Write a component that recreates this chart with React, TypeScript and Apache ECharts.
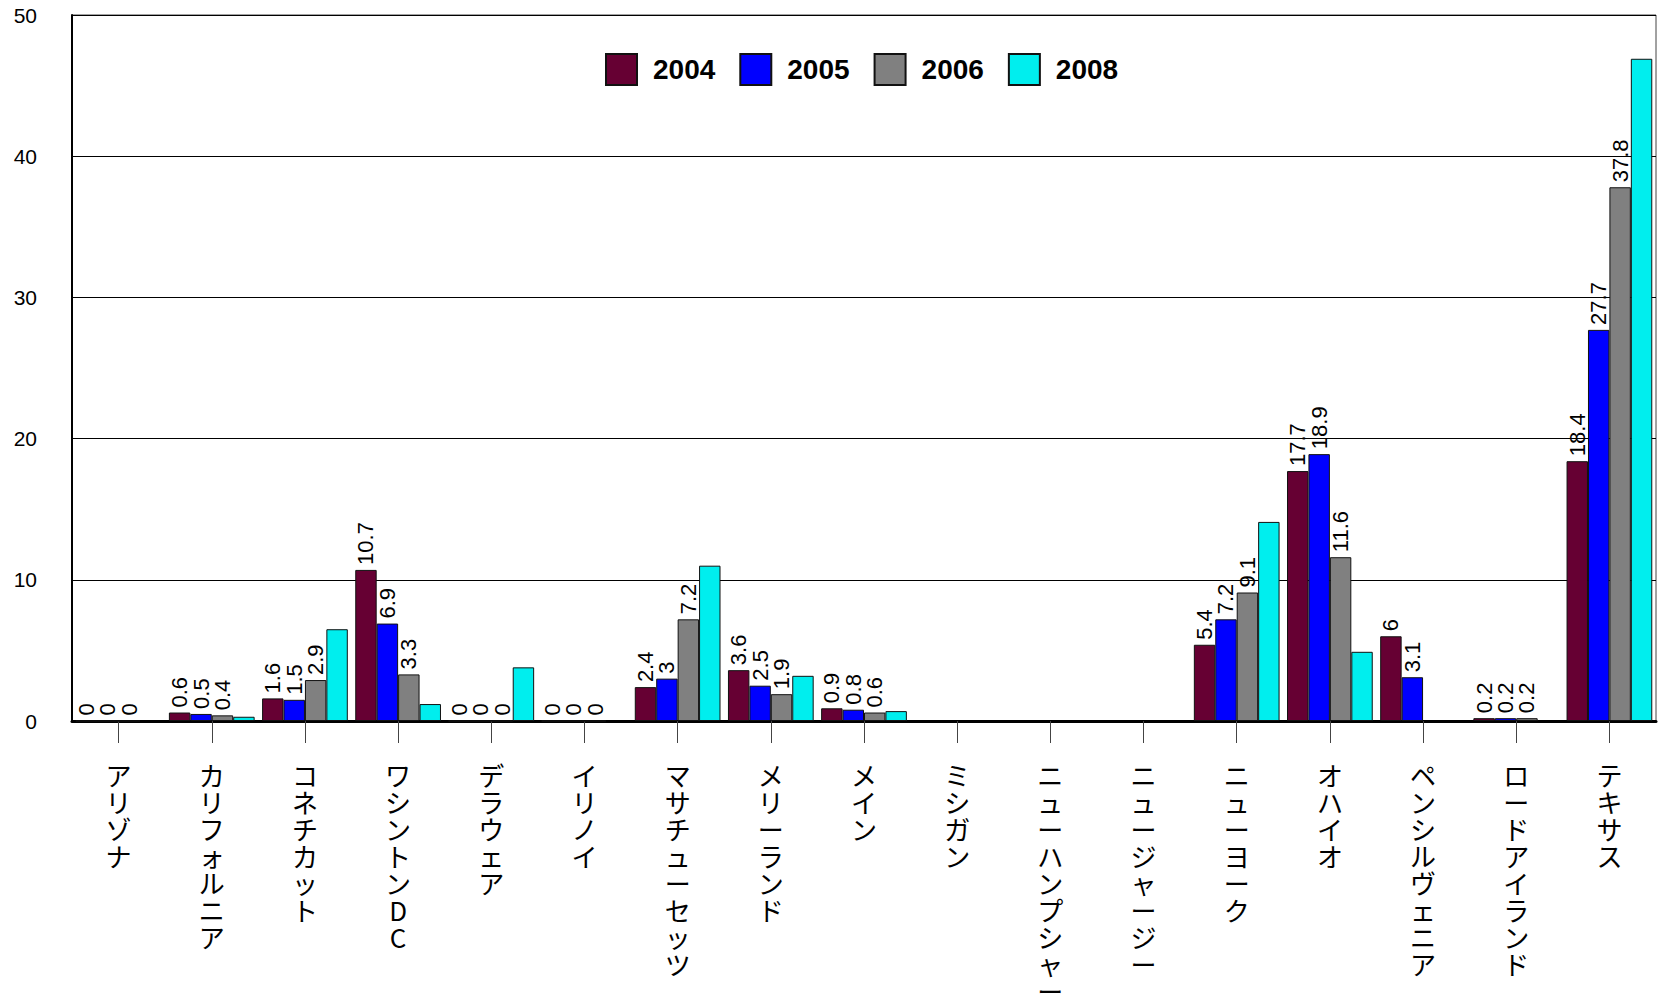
import React, { useEffect, useRef } from "react";
import * as echarts from "echarts";

const categories = [
  "アリゾナ", "カリフォルニア", "コネチカット", "ワシントンDC", "デラウェア", "イリノイ",
  "マサチューセッツ", "メリーランド", "メイン", "ミシガン", "ニューハンプシャー", "ニュージャージー",
  "ニューヨーク", "オハイオ", "ペンシルヴェニア", "ロードアイランド", "テキサス",
];
const seriesNames = ["2004", "2005", "2006", "2008"];
const values2004 = [0, 0.6, 1.6, 10.7, 0, 0, 2.4, 3.6, 0.9, null, null, null, 5.4, 17.7, 6, 0.2, 18.4];
const values2005 = [0, 0.5, 1.5, 6.9, 0, 0, 3, 2.5, 0.8, null, null, null, 7.2, 18.9, 3.1, 0.2, 27.7];
const values2006 = [0, 0.4, 2.9, 3.3, 0, 0, 7.2, 1.9, 0.6, null, null, null, 9.1, 11.6, null, 0.2, 37.8];
const values2008 = [null, 0.3, 6.5, 1.2, 3.8, null, 11.0, 3.2, 0.7, null, null, null, 14.1, 4.9, null, null, 46.9];
const colors = ["#660033", "#0000FF", "#808080", "#00EEEE"];
const showLabels = [true, true, true, false];
const yTicks = { min: 0, max: 50, interval: 10 };

export default function App() {
  const ref = useRef<HTMLDivElement>(null);
  useEffect(() => {
    if (!ref.current) return;
    const chart = echarts.init(ref.current, null, { renderer: "svg" });
    const all = [values2004, values2005, values2006, values2008];
    chart.setOption({
      animation: false,
      backgroundColor: "#ffffff",
      legend: {
        left: 600,
        top: 48,
        itemWidth: 31,
        itemHeight: 31,
        itemGap: 24,
        icon: "rect",
        textStyle: {
          fontFamily: "Liberation Sans",
          fontWeight: "bold",
          fontSize: 28,
          color: "#000",
          padding: [0, 0, 0, 11],
        },
        data: seriesNames,
      },
      grid: {
        left: 72,
        right: 5,
        top: 15,
        bottom: 274,
        show: true,
        borderColor: "#444",
        borderWidth: 1,
        containLabel: false,
        outerBoundsMode: "none",
      },
      xAxis: {
        type: "category",
        data: categories,
        axisLine: { show: true, lineStyle: { color: "#000", width: 3 } },
        axisTick: { show: true, alignWithLabel: true, length: 22, lineStyle: { color: "#444", width: 1 } },
        axisLabel: {
          interval: 0,
          margin: 40,
          fontFamily: "Noto Sans CJK JP",
          fontSize: 26,
          lineHeight: 27,
          color: "#000",
          formatter: (v: string) => v.split("").join("\n"),
          verticalAlign: "top",
        },
      },
      yAxis: {
        type: "value",
        min: yTicks.min,
        max: yTicks.max,
        interval: yTicks.interval,
        axisLine: { show: true, lineStyle: { color: "#000", width: 2 } },
        axisTick: { show: false },
        axisLabel: { margin: 35, fontFamily: "Liberation Sans", fontSize: 21, color: "#000" },
        splitLine: { show: true, lineStyle: { color: "#000", width: 1 } },
      },
      series: seriesNames.map((name, i) => ({
        name,
        type: "bar",
        data: all[i],
        barGap: "0%",
        barCategoryGap: "8%",
        itemStyle: { color: colors[i], borderColor: "#111", borderWidth: 1 },
        label: {
          show: showLabels[i],
          position: "top",
          rotate: 90,
          align: "left",
          verticalAlign: "middle",
          distance: 5,
          fontFamily: "Liberation Sans",
          fontSize: 22,
          color: "#000",
        },
      })),
    });
    return () => chart.dispose();
  }, []);
  return <div ref={ref} style={{ position: "fixed", left: 0, top: 0, width: 1661, height: 995 }} />;
}
